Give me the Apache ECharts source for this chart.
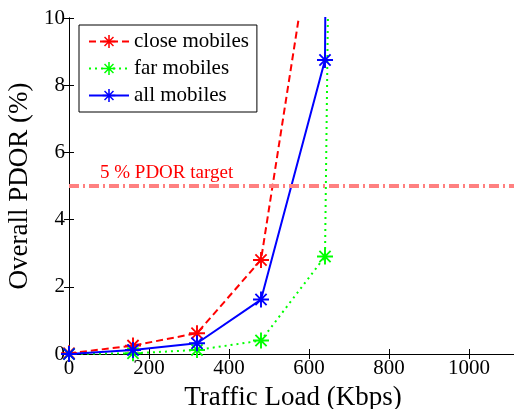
<!DOCTYPE html>
<html>
<head>
<meta charset="utf-8">
<script src="https://cdn.jsdelivr.net/npm/echarts@6/dist/echarts.min.js"></script>
<style>
  html, body { margin: 0; padding: 0; background: #fff; }
  #chart { width: 514px; height: 409px; }
</style>
</head>
<body>
<div id="chart"></div>
<script>
// Offered traffic load (Kbps) for each simulation point
const trafficLoad = [0, 160, 320, 480, 640, 800];
// Overall packet drop/outage ratio (%) per mobile group
const closeMobiles = [0.02, 0.25, 0.62, 2.8, 15, 60];
const farMobiles   = [0.0, 0.02, 0.12, 0.4, 2.9, 160];
const allMobiles   = [0.0, 0.12, 0.32, 1.62, 8.75, 300];
const seriesNames  = ['close mobiles', 'far mobiles', 'all mobiles'];
const pdorTarget   = 5;
const xTicks = [0, 200, 400, 600, 800, 1000];
const yTicks = [0, 2, 4, 6, 8, 10];

const FONT = "'Liberation Serif', 'Times New Roman', serif";

// MATLAB-style asterisk marker: horizontal, vertical and two diagonal bars
const STAR = 'path://M0 44L100 44L100 56L0 56Z M44 0L56 0L56 100L44 100Z ' +
  'M19 11L89 81L81 89L11 19Z M81 11L89 19L19 89L11 81Z';

const pairs = ys => trafficLoad.map((x, i) => [x, ys[i]]);

function lineSeries(name, ys, color, dash, extra) {
  return Object.assign({
    name: name,
    type: 'line',
    data: pairs(ys),
    symbol: STAR,
    symbolSize: 16,
    showSymbol: true,
    clip: true,
    itemStyle: { color: color },
    lineStyle: { color: color, width: 2, type: dash },
    emphasis: { disabled: true },
    z: 3
  }, extra || {});
}

const chart = echarts.init(document.getElementById('chart'), null, { renderer: 'canvas' });

const axisCommon = {
  type: 'value',
  axisLine: { show: true, lineStyle: { color: '#000', width: 1 } },
  axisTick: { show: true, inside: true, length: 5, lineStyle: { color: '#000' } },
  splitLine: { show: false }
};

chart.setOption({
  animation: false,
  backgroundColor: '#fff',
  grid: { left: 69, top: 18, right: -3, bottom: 55, containLabel: false, outerBoundsMode: 'none' },
  legend: {
    orient: 'vertical',
    left: 79,
    top: 25,
    padding: [6, 8, 6, 9],
    itemWidth: 40,
    itemHeight: 16,
    itemGap: 6,
    borderColor: '#000',
    borderWidth: 1,
    borderRadius: 0,
    backgroundColor: '#fff',
    data: seriesNames,
    textStyle: { fontFamily: FONT, fontSize: 21, color: '#000' }
  },
  xAxis: [
    Object.assign({}, axisCommon, {
      min: 0, max: 1120, interval: 200,
      position: 'bottom',
      name: 'Traffic Load (Kbps)',
      nameLocation: 'middle',
      nameGap: 30,
      nameTextStyle: { fontFamily: FONT, fontSize: 27, color: '#000' },
      axisLabel: {
        color: '#000', fontFamily: FONT, fontSize: 21, margin: 4,
        showMaxLabel: false,
        formatter: v => (xTicks.indexOf(v) >= 0 ? String(v) : '')
      }
    }),
    Object.assign({}, axisCommon, {
      min: 0, max: 1120, interval: 200,
      position: 'top',
      axisLabel: { show: false }
    })
  ],
  yAxis: [
    Object.assign({}, axisCommon, {
      min: 0, max: 10, interval: 2,
      position: 'left',
      name: 'Overall PDOR (%)',
      nameLocation: 'middle',
      nameGap: 31,
      nameTextStyle: { fontFamily: FONT, fontSize: 27, color: '#000' },
      axisLabel: {
        color: '#000', fontFamily: FONT, fontSize: 21, margin: 4,
        formatter: v => (yTicks.indexOf(v) >= 0 ? String(v) : '')
      }
    }),
    Object.assign({}, axisCommon, {
      min: 0, max: 10, interval: 2,
      position: 'right',
      axisLabel: { show: false }
    })
  ],
  series: [
    lineSeries(seriesNames[0], closeMobiles, '#ff0000', [7, 4], {
      markLine: {
        silent: true,
        symbol: 'none',
        animation: false,
        data: [{ yAxis: pdorTarget }],
        lineStyle: { color: '#ff8080', width: 4, type: [10, 4, 2, 4], opacity: 1 },
        label: {
          show: true,
          position: 'insideStartTop',
          formatter: '5 % PDOR target',
          color: '#ff0000',
          fontFamily: FONT,
          fontSize: 19,
          distance: [31, 3]
        },
        emphasis: { disabled: true }
      }
    }),
    lineSeries(seriesNames[1], farMobiles, '#00ff00', [2, 4]),
    lineSeries(seriesNames[2], allMobiles, '#0000ff', 'solid')
  ]
});
</script>
</body>
</html>
